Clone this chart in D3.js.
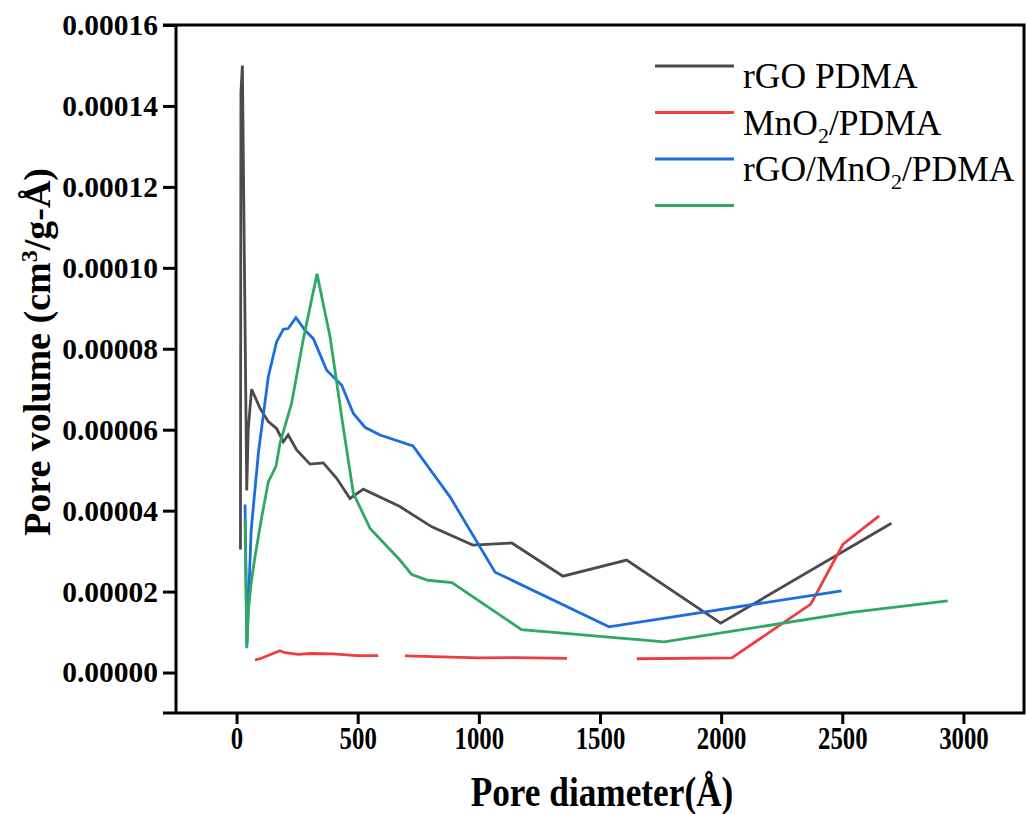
<!DOCTYPE html>
<html>
<head>
<meta charset="utf-8">
<title>Pore size distribution</title>
<script src="https://d3js.org/d3.v7.min.js"></script>
<style>
  body { margin: 0; background: #fff; }
  text { font-family: "Liberation Serif", "Times New Roman", serif; }
</style>
</head>
<body>
<script>
// pore diameter (Å) and pore volume (cm3/g-Å)
const rgoD = [16, 18, 24, 42, 48, 62, 97, 131, 165, 193, 213, 248, 303, 358, 413, 468, 523, 674, 806, 975, 1136, 1347, 1610, 1998, 2703];
const rgoV = [3.04e-5, 1.434e-4, 1.5e-4, 4.5e-5, 6.0e-5, 7.0e-5, 6.53e-5, 6.2e-5, 6.03e-5, 5.7e-5, 5.87e-5, 5.5e-5, 5.15e-5, 5.18e-5, 4.8e-5, 4.3e-5, 4.53e-5, 4.1e-5, 3.6e-5, 3.15e-5, 3.2e-5, 2.38e-5, 2.78e-5, 1.22e-5, 3.69e-5];

// null = missing point (gap in the line)
const mnoD = [76, 97, 179, 200, 255, 303, 398, 496, 585, 640, 695, 1000, 1150, 1364, 1500, 1652, 2044, 2370, 2503, 2652];
const mnoV = [3.1e-6, 3.4e-6, 5.4e-6, 4.9e-6, 4.5e-6, 4.7e-6, 4.6e-6, 4.2e-6, 4.2e-6, null, 4.1e-6, 3.6e-6, 3.7e-6, 3.5e-6, null, 3.4e-6, 3.6e-6, 1.69e-5, 3.17e-5, 3.87e-5];

const ternD = [35, 43, 60, 90, 131, 165, 193, 213, 245, 282, 317, 372, 434, 482, 530, 592, 728, 881, 1067, 1537, 2497];
const ternV = [4.15e-5, 7e-6, 3.5e-5, 5.42e-5, 7.31e-5, 8.17e-5, 8.48e-5, 8.5e-5, 8.77e-5, 8.46e-5, 8.25e-5, 7.47e-5, 7.1e-5, 6.4e-5, 6.06e-5, 5.87e-5, 5.6e-5, 4.34e-5, 2.48e-5, 1.13e-5, 2.02e-5];

const fourD = [35, 42, 48, 60, 76, 104, 131, 163, 179, 227, 275, 332, 386, 440, 482, 551, 674, 723, 790, 889, 1176, 1765, 2545, 2935];
const fourV = [3.8e-5, 6e-6, 1.5e-5, 2.2e-5, 2.86e-5, 3.85e-5, 4.71e-5, 5.1e-5, 5.66e-5, 6.65e-5, 8.22e-5, 9.85e-5, 8.29e-5, 6.07e-5, 4.43e-5, 3.56e-5, 2.78e-5, 2.42e-5, 2.28e-5, 2.22e-5, 1.06e-5, 7.6e-6, 1.49e-5, 1.77e-5];

const seriesNames = ["rGO PDMA", "MnO2/PDMA", "rGO/MnO2/PDMA", ""];
const seriesColors = ["#4b4b4b", "#ee3d3d", "#1c6ee0", "#2fa865"];

const xTicks = [0, 500, 1000, 1500, 2000, 2500, 3000];
const yTicks = [0, 0.00002, 0.00004, 0.00006, 0.00008, 0.0001, 0.00012, 0.00014, 0.00016];

const series = [
  d3.zip(rgoD, rgoV),
  d3.zip(mnoD, mnoV),
  d3.zip(ternD, ternV),
  d3.zip(fourD, fourV)
];

const W = 1026, H = 814;
const plot = { left: 176, right: 1024, top: 25, bottom: 713 };

const svg = d3.select("body").append("svg")
  .attr("width", W)
  .attr("height", H);

const x = d3.scaleLinear().domain([-250, 3250]).range([plot.left, plot.right]);
const y = d3.scaleLinear().domain([-0.00001, 0.00016]).range([plot.bottom, plot.top]);

// lines
const line = d3.line()
  .defined(d => d[1] != null)
  .x(d => x(d[0]))
  .y(d => y(d[1]));

svg.append("g")
  .selectAll("path")
  .data(series)
  .join("path")
  .attr("d", line)
  .attr("fill", "none")
  .attr("stroke", (d, i) => seriesColors[i])
  .attr("stroke-width", 2.8)
  .attr("stroke-linejoin", "miter");

// frame
svg.append("path")
  .attr("d", `M${plot.left - 13},${plot.top}H${plot.right}V${plot.bottom}H${plot.left - 13}M${plot.left},${plot.top}V${plot.bottom}`)
  .attr("fill", "none")
  .attr("stroke", "#000")
  .attr("stroke-width", 3);

// y axis
const yAxis = svg.append("g")
  .attr("transform", `translate(${plot.left},0)`)
  .call(d3.axisLeft(y).tickValues(yTicks).tickSize(13).tickPadding(5).tickFormat(d => d.toFixed(5)));
yAxis.select(".domain").remove();
yAxis.selectAll("line").attr("stroke", "#000").attr("stroke-width", 3);
yAxis.selectAll("text")
  .attr("font-weight", "bold")
  .attr("font-size", 29.5)
  .attr("fill", "#000");

// x axis (labels are narrow and tall in the figure)
const xAxis = svg.append("g")
  .attr("transform", `translate(0,${plot.bottom})`)
  .call(d3.axisBottom(x).tickValues(xTicks).tickSize(11).tickPadding(3).tickFormat(d3.format("d")));
xAxis.select(".domain").remove();
xAxis.selectAll("line").attr("stroke", "#000").attr("stroke-width", 3);
xAxis.selectAll("text")
  .attr("font-weight", "bold")
  .attr("font-size", 31)
  .attr("transform", "scale(0.8,1)")
  .attr("fill", "#000");

// axis titles
svg.append("text")
  .attr("transform", `translate(${(plot.left + plot.right) / 2 + 2},806) scale(0.84,1)`)
  .attr("text-anchor", "middle")
  .attr("font-weight", "bold")
  .attr("font-size", 42)
  .text("Pore diameter(Å)");

const yTitle = svg.append("text")
  .attr("transform", "translate(50,352) rotate(-90)")
  .attr("text-anchor", "middle")
  .attr("font-weight", "bold")
  .attr("font-size", 38);
yTitle.append("tspan").text("Pore volume (cm");
yTitle.append("tspan").attr("dy", -13).attr("font-size", 24).text("3");
yTitle.append("tspan").attr("dy", 13).text("/g-Å)");

// legend
const legend = svg.append("g")
  .selectAll("g")
  .data(seriesNames)
  .join("g")
  .attr("transform", (d, i) => `translate(655,${66 + i * 46.5})`);

legend.append("line")
  .attr("x1", 0).attr("x2", 79)
  .attr("stroke", (d, i) => seriesColors[i])
  .attr("stroke-width", 3);

legend.each(function (d) {
  const t = d3.select(this).append("text")
    .attr("x", 88)
    .attr("y", 22)
    .attr("font-size", 35.5)
    .attr("fill", "#000");
  d.split("2").forEach((part, j, arr) => {
    t.append("tspan").attr("dy", j > 0 ? -8 : 0).text(part);
    if (j < arr.length - 1) t.append("tspan").attr("dy", 8).attr("font-size", 22).text("2");
  });
});
</script>
</body>
</html>
